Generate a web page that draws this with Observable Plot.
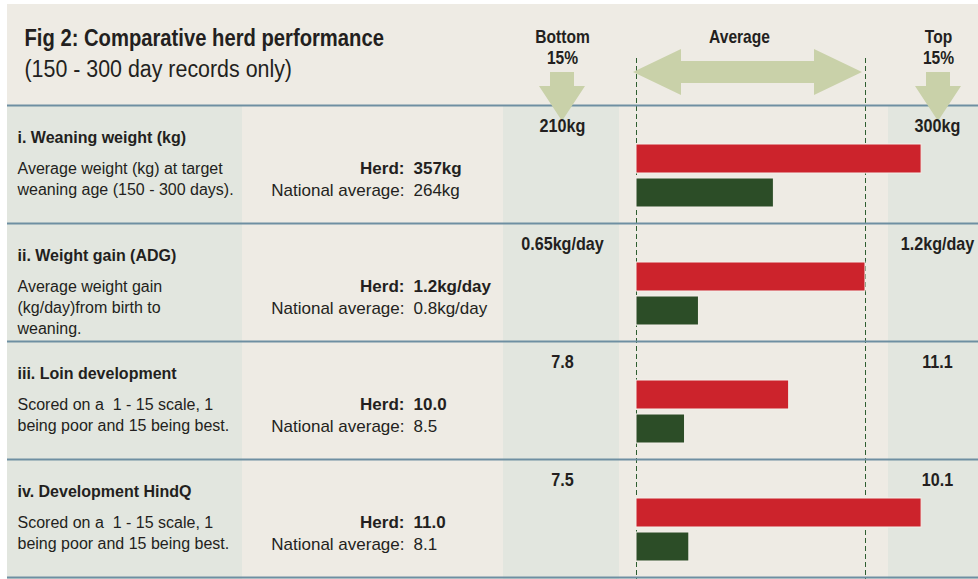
<!DOCTYPE html>
<html>
<head>
<meta charset="utf-8">
<script src="https://cdn.jsdelivr.net/npm/d3@7"></script>
<script src="https://cdn.jsdelivr.net/npm/@observablehq/plot@0.6"></script>
<style>
  html, body { margin: 0; padding: 0; background: #ffffff; }
  #chart { width: 978px; height: 579px; }
</style>
</head>
<body>
<div id="chart"></div>
<script>
// ---------- data ----------
const title = "Fig 2: Comparative herd performance";
const subtitle = "(150 - 300 day records only)";
const metrics = ["i. Weaning weight (kg)", "ii. Weight gain (ADG)", "iii. Loin development", "iv. Development HindQ"];
const descriptions = [
  "Average weight (kg) at target\nweaning age (150 - 300 days).",
  "Average weight gain\n(kg/day)from birth to\nweaning.",
  "Scored on a \u00a01 - 15 scale, 1\nbeing poor and 15 being best.",
  "Scored on a \u00a01 - 15 scale, 1\nbeing poor and 15 being best."
];
const herdValues = [357, 1.2, 10.0, 11.0];
const nationalValues = [264, 0.8, 8.5, 8.1];
const bottom15 = [210, 0.65, 7.8, 7.5];
const top15 = [300, 1.2, 11.1, 10.1];
const herdLabels = ["357kg", "1.2kg/day", "10.0", "11.0"];
const nationalLabels = ["264kg", "0.8kg/day", "8.5", "8.1"];
const bottomLabels = ["210kg", "0.65kg/day", "7.8", "7.5"];
const topLabels = ["300kg", "1.2kg/day", "11.1", "10.1"];
const series = ["Herd", "National average"];
const seriesColors = ["#cc232c", "#2c4d27"];
const headerLabels = ["Bottom\n15%", "Average", "Top\n15%"];

// ---------- layout / style ----------
const FONT = "'Liberation Sans', Arial, sans-serif";
const INK = "#231f20";
const PANEL = "#eeebe4";
const TINT = "#e2e6df";
const RULE = "#6e8fa2";
const ARROW = "#c9d1a9";
const DASH = "#2e5e30";
const L = 7;                                       // panel left edge (px)
const colBottom = 562, colTop = 937, colAvg = 739; // column centres (px)
const barCap = 1.245;                              // longest drawable bar (overflow past top 15%)
// marker families used to find the texts that get the condensed look
const F_TITLE = FONT + ", xc-title";
const F_SUB = FONT + ", xc-sub";
const F_HEAD = FONT + ", xc-head";
const F_VAL = FONT + ", xc-val";

// ---------- derived ----------
const rows = metrics.map((m, i) => ({
  i, metric: m, desc: descriptions[i],
  herdLabel: herdLabels[i], nationalLabel: nationalLabels[i],
  bottomLabel: bottomLabels[i], topLabel: topLabels[i]
}));
const bars = [];
metrics.forEach((m, i) => {
  [herdValues[i], nationalValues[i]].forEach((v, k) => {
    const rel = (v - bottom15[i]) / (top15[i] - bottom15[i]); // 0 = bottom 15%, 1 = top 15%
    bars.push({i, series: series[k], value: v, rel: Math.max(0, Math.min(barCap, rel))});
  });
});

function background(index, scales, values, dims) {
  const g = d3.create("svg:g");
  const y0 = scales.y(0), H = dims.height;
  g.append("rect").attr("x", L).attr("y", 4).attr("width", dims.width - L).attr("height", H - 4).attr("fill", PANEL);
  const tints = [[L, 242], [503, 619], [888, dims.width]];
  for (const [a, b] of tints)
    g.append("rect").attr("x", a).attr("y", y0).attr("width", b - a).attr("height", H - y0).attr("fill", TINT);
  return g.node();
}

function arrows(index, scales) {
  const g = d3.create("svg:g").attr("fill", ARROW);
  const xa = scales.x(0) - 3, xb = scales.x(1) - 3;
  const cy = 72, hh = 23, sh = 11, hl = 48;
  g.append("path").attr("d",
    `M${xa},${cy}L${xa + hl},${cy - hh}L${xa + hl},${cy - sh}L${xb - hl},${cy - sh}L${xb - hl},${cy - hh}` +
    `L${xb},${cy}L${xb - hl},${cy + hh}L${xb - hl},${cy + sh}L${xa + hl},${cy + sh}L${xa + hl},${cy + hh}Z`);
  for (const cx of [colBottom, colTop + 1]) {
    const top = 72, neck = 86, tip = 121, sw = 12, hw = 23;
    g.append("path").attr("d",
      `M${cx - sw},${top}L${cx + sw},${top}L${cx + sw},${neck}L${cx + hw},${neck}L${cx},${tip}L${cx - hw},${neck}L${cx - sw},${neck}Z`);
  }
  return g.node();
}

const headOpts = {frameAnchor: "top-left", lineAnchor: "bottom", lineHeight: 1.1, textAnchor: "middle",
  fontFamily: F_HEAD, fontWeight: "bold", fontSize: 19, fill: INK};
const valOpts = {y: "i", frameAnchor: "left", dy: 26, lineAnchor: "bottom", textAnchor: "middle",
  fontFamily: F_VAL, fontWeight: "bold", fontSize: 19, fill: INK};

const chart = Plot.plot({
  width: 978,
  height: 579,
  marginLeft: L, marginRight: 0, marginTop: 58, marginBottom: 0,
  style: {background: "#ffffff", color: INK, fontFamily: FONT},
  x: {domain: [0, 1], range: [636, 865], axis: null},
  y: {domain: [0, metrics.length], range: [105, 577], axis: null},
  color: {domain: series, range: seriesColors},
  marks: [
    background,
    Plot.ruleX([0, 1], {stroke: DASH, strokeWidth: 1, strokeDasharray: "5,3"}),
    Plot.ruleY(d3.range(metrics.length + 1), {stroke: RULE, strokeWidth: 2}),
    arrows,
    // bars
    Plot.rect(bars.filter(d => d.series === series[0]), {
      x1: () => 0, x2: "rel", y1: "i", y2: d => d.i + 1,
      insetTop: 39, insetBottom: 50, fill: "series", stroke: "#f4f0ea", strokeWidth: 1
    }),
    Plot.rect(bars.filter(d => d.series === series[1]), {
      x1: () => 0, x2: "rel", y1: "i", y2: d => d.i + 1,
      insetTop: 73, insetBottom: 16, fill: "series", stroke: "#f4f0ea", strokeWidth: 1
    }),
    // title
    Plot.text([title], {text: d => d, frameAnchor: "top-left", dx: 17, dy: -12.5, lineAnchor: "bottom",
      fontFamily: F_TITLE, fontWeight: "bold", fontSize: 24.5, fill: INK}),
    Plot.text([subtitle], {text: d => d, frameAnchor: "top-left", dx: 17, dy: 18.5, lineAnchor: "bottom",
      fontFamily: F_SUB, fontSize: 23.5, fill: INK}),
    // header labels
    Plot.text([headerLabels[0]], {...headOpts, text: d => d, dx: colBottom - L, dy: 5}),
    Plot.text([headerLabels[1]], {...headOpts, text: d => d, dx: colAvg - L, dy: -16}),
    Plot.text([headerLabels[2]], {...headOpts, text: d => d, dx: colTop + 1 - L, dy: 5}),
    // threshold values
    Plot.text(rows, {...valOpts, text: "bottomLabel", dx: colBottom - L}),
    Plot.text(rows, {...valOpts, text: "topLabel", dx: colTop - L}),
    // left column
    Plot.text(rows, {y: "i", text: "metric", frameAnchor: "left", dx: 10, dy: 37.5, lineAnchor: "bottom",
      textAnchor: "start", fontWeight: "bold", fontSize: 16, fill: INK}),
    Plot.text(rows, {y: "i", text: "desc", frameAnchor: "left", dx: 10, dy: 53.7, lineAnchor: "top", lineHeight: 1.3,
      textAnchor: "start", fontSize: 16, fill: INK}),
    // herd / national values
    Plot.text(rows, {y: "i", text: () => "Herd:", frameAnchor: "left", dx: 404 - L, dy: 68, lineAnchor: "bottom",
      textAnchor: "end", fontWeight: "bold", fontSize: 17, fill: INK}),
    Plot.text(rows, {y: "i", text: "herdLabel", frameAnchor: "left", dx: 413 - L, dy: 68, lineAnchor: "bottom",
      textAnchor: "start", fontWeight: "bold", fontSize: 17, fill: INK}),
    Plot.text(rows, {y: "i", text: () => "National average:", frameAnchor: "left", dx: 404 - L, dy: 90, lineAnchor: "bottom",
      textAnchor: "end", fontSize: 17, fill: INK}),
    Plot.text(rows, {y: "i", text: "nationalLabel", frameAnchor: "left", dx: 413 - L, dy: 90, lineAnchor: "bottom",
      textAnchor: "start", fontSize: 17, fill: INK})
  ]
});
document.getElementById("chart").append(chart);

// emulate the condensed display face by horizontally compressing glyphs
function condense(marker, f) {
  chart.querySelectorAll("g[font-family]").forEach(g => {
    if (!g.getAttribute("font-family").includes(marker)) return;
    g.querySelectorAll("text").forEach(t => {
      const spans = t.querySelectorAll("tspan");
      (spans.length ? Array.from(spans) : [t]).forEach(s => {
        const w = s.getComputedTextLength();
        s.setAttribute("textLength", (w * f).toFixed(1));
        s.setAttribute("lengthAdjust", "spacingAndGlyphs");
      });
    });
  });
}
condense("xc-title", 0.825);
condense("xc-sub", 0.91);
condense("xc-head", 0.82);
condense("xc-val", 0.85);
</script>
</body>
</html>
